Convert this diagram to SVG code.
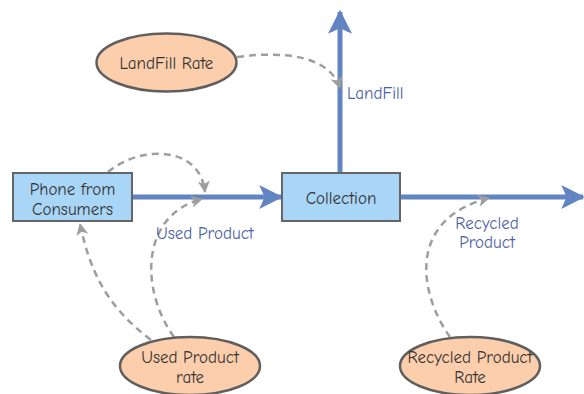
<svg xmlns="http://www.w3.org/2000/svg" width="584" height="394" viewBox="0 0 584 394">
  <style>
    .lbl { font-family: "Comic Sans MS", "Comic Neue", "DejaVu Sans", sans-serif; font-size: 17px; fill: #333; text-anchor: middle; }
    .flow-lbl { font-family: "Comic Sans MS", "Comic Neue", "DejaVu Sans", sans-serif; font-size: 17px; fill: #4b5fa6; }
    .stock { fill: #a9d5f7; stroke: #666; stroke-width: 2; }
    .aux { fill: #fdceac; stroke: #5f5f5f; stroke-width: 2.5; }
    .flow { fill: none; stroke: #6284c2; stroke-width: 5; }
    .link { fill: none; stroke: #9e9e9e; stroke-width: 2.5; stroke-dasharray: 7 5; }
  </style>
  <defs>
    <marker id="flowHead" markerUnits="userSpaceOnUse" markerWidth="24" markerHeight="24" viewBox="0 0 22 22" refX="20" refY="11" orient="auto">
      <path d="M0,0 L22,11 L0,22 L5,11 Z" fill="#6284c2"/>
    </marker>
    <marker id="linkHead" markerUnits="userSpaceOnUse" markerWidth="12" markerHeight="12" viewBox="0 0 12 12" refX="11" refY="6" orient="auto">
      <path d="M0,0 L12,6 L0,12 L3,6 Z" fill="#9e9e9e"/>
    </marker>
  </defs>

  <!-- material flows -->
  <g id="connectors">
    <path class="flow" d="M132,197 L281,197" marker-end="url(#flowHead)"/>
    <path class="flow" d="M400,197 L583,197" marker-end="url(#flowHead)"/>
    <path class="flow" d="M340,173 L340,12" marker-end="url(#flowHead)"/>

    <!-- information links -->
    <path class="link" d="M237,57 C290,50 330,58 340,88" marker-end="url(#linkHead)"/>
    <path class="link" d="M108,172 C140,145 200,145 205,192" marker-end="url(#linkHead)"/>
    <path class="link" d="M174,337 C140,290 140,215 202,199" marker-end="url(#linkHead)"/>
    <path class="link" d="M151,340 C105,305 90,270 80,224" marker-end="url(#linkHead)"/>
    <path class="link" d="M450,337 C420,295 405,220 489,198" marker-end="url(#linkHead)"/>

    <text class="flow-lbl" x="347" y="99">LandFill</text>
    <text class="flow-lbl" x="156" y="239">Used Product</text>
    <text class="flow-lbl" x="487" y="229" text-anchor="middle">Recycled</text>
    <text class="flow-lbl" x="487" y="248" text-anchor="middle">Product</text>
  </g>

  <g id="landfill-rate">
    <ellipse class="aux" cx="166.5" cy="62.5" rx="70" ry="29"/>
    <text class="lbl" x="166.5" y="69">LandFill Rate</text>
  </g>

  <g id="phone-from-consumers">
    <rect class="stock" x="13" y="173" width="119" height="48"/>
    <text class="lbl" x="72.5" y="195">Phone from</text>
    <text class="lbl" x="72.5" y="215">Consumers</text>
  </g>

  <g id="collection">
    <rect class="stock" x="282" y="173" width="118" height="48"/>
    <text class="lbl" x="341" y="204">Collection</text>
  </g>

  <g id="used-product-rate">
    <ellipse class="aux" cx="190" cy="366" rx="70" ry="29"/>
    <text class="lbl" x="190" y="363">Used Product</text>
    <text class="lbl" x="190" y="383">rate</text>
  </g>

  <g id="recycled-product-rate">
    <ellipse class="aux" cx="470" cy="366" rx="70" ry="29"/>
    <text class="lbl" x="470" y="363">Recycled Product</text>
    <text class="lbl" x="470" y="383">Rate</text>
  </g>
</svg>
